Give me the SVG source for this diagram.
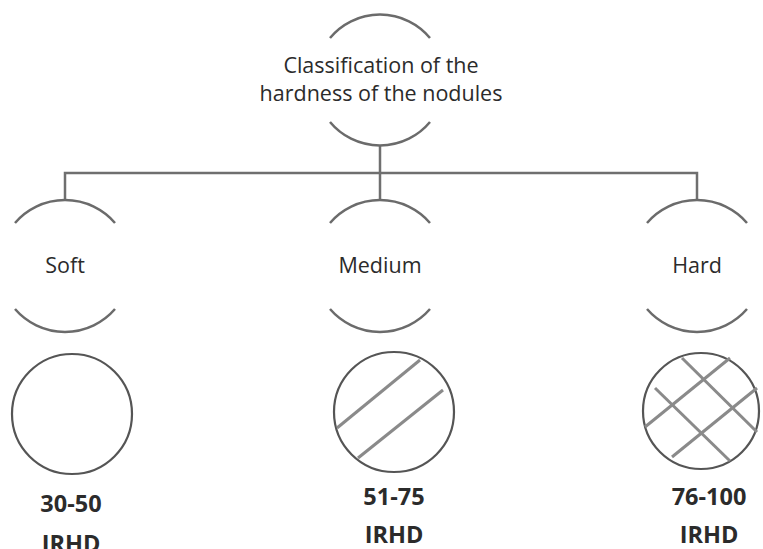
<svg xmlns="http://www.w3.org/2000/svg" width="763" height="549" viewBox="0 0 763 549">
<style>
.arc{fill:none;stroke:#6b6b6b;stroke-width:2.5}
.conn{fill:none;stroke:#6f6f6f;stroke-width:2.5}
.lbl{font-family:"Open Sans","Noto Sans",sans-serif;font-size:21.5px;fill:#2b2b2b;text-anchor:middle}
.val{font-family:"Open Sans","Noto Sans",sans-serif;font-size:23.5px;font-weight:bold;fill:#2b2b2b;text-anchor:middle}
.ring{fill:#fff;stroke:#555;stroke-width:2.2}
.hatch{stroke:#8a8a8a;stroke-width:3;stroke-linecap:butt}
</style>
<rect width="763" height="549" fill="#fff"/>
<g id="connectors">
<path class="conn" d="M380 145 V173 M65 200 V173 H697 V200 M380 173 V200"/>
</g>
<g id="root">
<path class="arc" d="M330 38 A65 65 0 0 1 430 38"/>
<path class="arc" d="M330 122 A65 65 0 0 0 430 122"/>
<text class="lbl" x="381" y="73">Classification of the</text>
<text class="lbl" x="381" y="101">hardness of the nodules</text>
</g>
<g id="soft">
<path class="arc" d="M15 223 A66 66 0 0 1 115 223"/>
<path class="arc" d="M15 309 A66 66 0 0 0 115 309"/>
<text class="lbl" x="65" y="273">Soft</text>
</g>
<g id="medium">
<path class="arc" d="M330 223 A66 66 0 0 1 430 223"/>
<path class="arc" d="M330 309 A66 66 0 0 0 430 309"/>
<text class="lbl" x="380" y="273">Medium</text>
</g>
<g id="hard">
<path class="arc" d="M647 223 A66 66 0 0 1 747 223"/>
<path class="arc" d="M647 309 A66 66 0 0 0 747 309"/>
<text class="lbl" x="697" y="273">Hard</text>
</g>
<g id="soft-sample">
<circle class="ring" cx="72" cy="414" r="60"/>
<text class="val" x="71" y="512">30-50</text>
<text class="val" x="71" y="552">IRHD</text>
</g>
<g id="medium-sample">
<circle class="ring" cx="394" cy="412" r="60"/>
<line class="hatch" x1="337" y1="428" x2="420" y2="360"/>
<line class="hatch" x1="358" y1="458" x2="443" y2="390"/>
<text class="val" x="394" y="505">51-75</text>
<text class="val" x="394" y="543">IRHD</text>
</g>
<g id="hard-sample">
<circle class="ring" cx="701" cy="411" r="58"/>
<line class="hatch" x1="645" y1="427" x2="730" y2="358"/>
<line class="hatch" x1="672" y1="457" x2="757" y2="388"/>
<line class="hatch" x1="682" y1="358" x2="757" y2="432"/>
<line class="hatch" x1="655" y1="388" x2="730" y2="461"/>
<text class="val" x="709" y="505">76-100</text>
<text class="val" x="709" y="543">IRHD</text>
</g>
</svg>
